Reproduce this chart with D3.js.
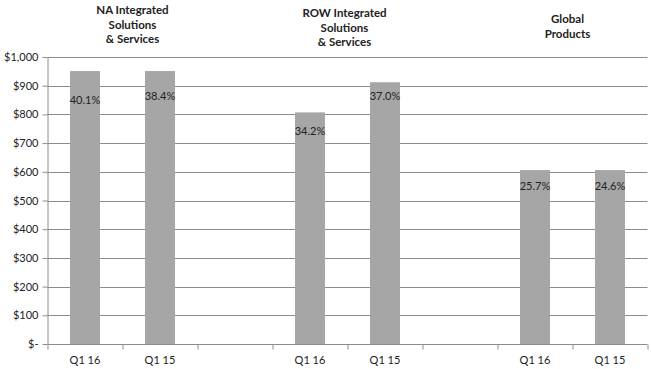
<!DOCTYPE html>
<html>
<head>
<meta charset="utf-8">
<script src="https://cdn.jsdelivr.net/npm/d3@7"></script>
<style>
  body { margin: 0; background: #fff; }
  text { font-family: Lato, "Open Sans", sans-serif; fill: #222; }
  .grid line { stroke: #8c8c8c; stroke-width: 1; }
  .axis path, .axis line { stroke: #8c8c8c; }
  .title { font-weight: bold; font-size: 11.5px; }
</style>
</head>
<body>
<div id="chart"></div>
<script>
// categories along the x axis (empty slots separate the three groups)
const categories = ['Q1 16', 'Q1 15', '', 'Q1 16', 'Q1 15', '', 'Q1 16', 'Q1 15'];
// bar values in $ (null = no bar)
const values = [951, 951, null, 807, 912, null, 606, 606];
// margin percentages shown on bars
const pctLabels = ['40.1%', '38.4%', null, '34.2%', '37.0%', null, '25.7%', '24.6%'];
// where Excel placed each label, in axis units
const pctLabelAt = [850, 862, null, 742, 865, null, 550, 550];
const yTicks = [0, 100, 200, 300, 400, 500, 600, 700, 800, 900, 1000];
const groupTitles = [
  ['NA Integrated', 'Solutions', '& Services'],
  ['ROW Integrated', 'Solutions', '& Services'],
  ['Global', 'Products']
];

const width = 651, height = 369;
const margin = {top: 57, right: 3, bottom: 25, left: 47.5};
// title boxes: first category of group, x offset and top line y
const titleLayout = [
  {cat: 0, dx: 10, y: 14},
  {cat: 3, dx: -3, y: 17},
  {cat: 6, dx: -5, y: 23}
];

const svg = d3.select('#chart').append('svg')
    .attr('width', width)
    .attr('height', height);

const innerW = width - margin.left - margin.right;
const innerH = height - margin.top - margin.bottom;

const g = svg.append('g')
    .attr('transform', `translate(${margin.left},${margin.top})`);

const x = d3.scaleBand()
    .domain(d3.range(categories.length))
    .range([0, 600])
    .padding(0);

const y = d3.scaleLinear()
    .domain([0, 1000])
    .range([innerH, 0]);

// gridlines
g.append('g')
    .attr('class', 'grid')
  .selectAll('line')
    .data(yTicks.filter(d => d > 0))
  .join('line')
    .attr('x1', 0)
    .attr('x2', 600)
    .attr('y1', d => Math.round(y(d)) + 0.5)
    .attr('y2', d => Math.round(y(d)) + 0.5);

// bars
const barW = x.bandwidth() * 0.4;
g.selectAll('.bar')
    .data(values.map((v, i) => ({v, i})).filter(d => d.v != null))
  .join('rect')
    .attr('class', 'bar')
    .attr('x', d => x(d.i) + (x.bandwidth() - barW) / 2)
    .attr('y', d => y(d.v))
    .attr('width', barW)
    .attr('height', d => y(0) - y(d.v))
    .attr('fill', '#a6a6a6');

// percentage labels
g.selectAll('.pct')
    .data(pctLabels.map((t, i) => ({t, i, at: pctLabelAt[i]})).filter(d => d.t))
  .join('text')
    .attr('class', 'pct')
    .attr('x', d => x(d.i) + x.bandwidth() / 2)
    .attr('y', d => y(d.at))
    .attr('dy', '0.35em')
    .attr('text-anchor', 'middle')
    .style('font-size', '11px')
    .text(d => d.t);

// y axis
const yAxis = g.append('g')
    .attr('class', 'axis')
    .call(d3.axisLeft(y)
      .tickValues(yTicks)
      .tickSize(5)
      .tickPadding(4)
      .tickFormat(d => d === 0 ? '$-' : '$' + d3.format(',')(d)));
yAxis.selectAll('text').style('font-size', '11px').attr('fill', '#222');
yAxis.select('.domain').attr('d', `M0.5,0V${innerH}`);

// x axis, with ticks on the category boundaries
const xAxisG = g.append('g')
    .attr('class', 'axis')
    .attr('transform', `translate(0,${Math.round(innerH) + 0.5})`);
xAxisG.append('line')
    .attr('x1', 0).attr('x2', 600)
    .attr('y1', 0).attr('y2', 0);
xAxisG.selectAll('.xtick')
    .data(d3.range(categories.length + 1))
  .join('line')
    .attr('class', 'xtick')
    .attr('x1', d => d * x.step() + 0.5)
    .attr('x2', d => d * x.step() + 0.5)
    .attr('y1', 0)
    .attr('y2', 5);
xAxisG.selectAll('.xlabel')
    .data(categories.map((c, i) => ({c, i})).filter(d => d.c))
  .join('text')
    .attr('class', 'xlabel')
    .attr('x', d => x(d.i) + x.bandwidth() / 2)
    .attr('y', 16)
    .attr('dy', '0.35em')
    .attr('text-anchor', 'middle')
    .style('font-size', '11px')
    .text(d => d.c);

// group titles
groupTitles.forEach((lines, k) => {
  const lay = titleLayout[k];
  const cx = margin.left + x(lay.cat) + x.step() + lay.dx;
  const t = svg.append('text')
      .attr('class', 'title')
      .attr('text-anchor', 'middle')
      .attr('x', cx)
      .attr('y', lay.y);
  lines.forEach((line, j) => {
    t.append('tspan')
        .attr('x', cx)
        .attr('dy', j === 0 ? 0 : 14.5)
        .text(line);
  });
});
</script>
</body>
</html>
